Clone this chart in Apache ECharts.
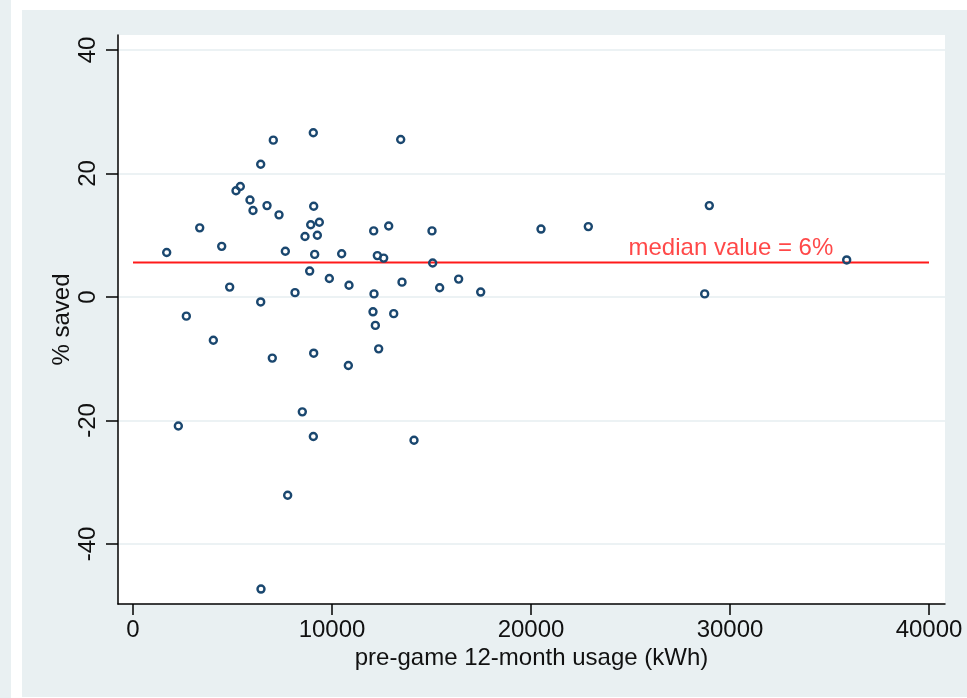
<!DOCTYPE html>
<html>
<head>
<meta charset="utf-8">
<script src="https://cdn.jsdelivr.net/npm/echarts@6/dist/echarts.min.js"></script>
<style>
html,body{margin:0;padding:0;background:#fff;}
#chart{width:967px;height:698px;}
</style>
</head>
<body>
<div id="chart"></div>
<script>
// kWh usage (x) and % saved (y) per household
const usage = [9060, 7050, 13452, 6417, 5392, 5176, 5879, 6734, 9080, 6030,
  7337, 3352, 9363, 8930, 12849, 12095, 15025, 8643, 9263, 4457,
  1693, 7655, 9129, 10486, 12278, 12597, 15059, 8878, 9866, 16364,
  13518, 4858, 10854, 15410, 17472, 8141, 12111, 6417, 12060, 13101,
  2680, 12178, 4037, 12345, 9080, 7000, 10821, 8508, 2278, 9062,
  14121, 7772, 6432, 20503, 22880, 28960, 35864, 28728];
const saved = [26.6, 25.4, 25.5, 21.5, 17.9, 17.2, 15.7, 14.8, 14.7, 14.0,
  13.3, 11.2, 12.1, 11.7, 11.5, 10.7, 10.7, 9.8, 10.0, 8.2,
  7.2, 7.4, 6.9, 7.0, 6.7, 6.3, 5.5, 4.2, 3.0, 2.9,
  2.4, 1.6, 1.9, 1.5, 0.8, 0.7, 0.5, -0.8, -2.4, -2.7,
  -3.1, -4.6, -7.0, -8.4, -9.1, -9.9, -11.1, -18.6, -20.9, -22.6,
  -23.2, -32.1, -47.3, 11.0, 11.4, 14.8, 6.0, 0.5];
const xTicks = [0, 10000, 20000, 30000, 40000];
const yTicks = [-40, -20, 0, 20, 40];
const medianValue = 5.6;
const medianLineX = [0, 40000];
const medianLabelText = 'median value = 6%';
const medianLabelPos = [24900, 7.8];
const xTitle = 'pre-game 12-month usage (kWh)';
const yTitle = '% saved';

const points = usage.map((u, i) => [u, saved[i]]);
const medianLine = medianLineX.map(x => [x, medianValue]);

const chart = echarts.init(document.getElementById('chart'), null, {renderer: 'canvas'});
const font = 'Liberation Sans, Arial, sans-serif';
chart.setOption({
  animation: false,
  backgroundColor: '#ffffff',
  graphic: [
    {type: 'rect', z: -100, shape: {x: 0, y: 0, width: 11, height: 698}, style: {fill: '#e9f0f2'}},
    {type: 'rect', z: -100, shape: {x: 22, y: 10, width: 945, height: 687}, style: {fill: '#e9f0f2'}}
  ],
  grid: {left: 118, right: 22, top: 35, bottom: 94, show: true, backgroundColor: '#ffffff', borderWidth: 0},
  xAxis: {
    type: 'value', min: -754, max: 40804,
    name: xTitle, nameLocation: 'middle', nameGap: 42, nameMoveOverlap: false,
    nameTextStyle: {fontFamily: font, fontSize: 24, color: '#111'},
    axisLine: {show: true, onZero: false, lineStyle: {color: '#000', width: 1.5}},
    axisTick: {show: true, customValues: xTicks, length: 11, lineStyle: {color: '#000', width: 1.5}},
    axisLabel: {customValues: xTicks, fontFamily: font, fontSize: 24, color: '#111', margin: 14,
      formatter: v => String(v)},
    splitLine: {show: false}
  },
  yAxis: {
    type: 'value', min: -49.72, max: 42.43,
    name: yTitle, nameLocation: 'middle', nameGap: 44, nameRotate: 90, nameMoveOverlap: false,
    nameTextStyle: {fontFamily: font, fontSize: 24, color: '#111'},
    axisLine: {show: true, onZero: false, lineStyle: {color: '#000', width: 1.5}},
    axisTick: {show: true, customValues: yTicks, length: 12, lineStyle: {color: '#000', width: 1.5}},
    axisLabel: {customValues: yTicks, rotate: 90, fontFamily: font, fontSize: 24, color: '#111', margin: 18,
      formatter: v => String(v)},
    splitLine: {show: true, lineStyle: {color: '#e6eef1', width: 1.5}}
  },
  series: [
    {
      type: 'line', data: medianLine, symbol: 'none', z: 3,
      lineStyle: {color: '#ff1a1a', width: 2}
    },
    {
      type: 'scatter', data: points, symbol: 'circle', symbolSize: 7, z: 4,
      itemStyle: {color: 'rgba(0,0,0,0)', borderColor: '#1a476f', borderWidth: 2.4, opacity: 1}
    },
    {
      type: 'scatter', data: [medianLabelPos], symbolSize: 0, z: 5, silent: true,
      label: {show: true, position: 'right', distance: 0, formatter: medianLabelText,
        fontFamily: font, fontSize: 24, color: '#ff1a1a'}
    }
  ]
});
</script>
</body>
</html>
